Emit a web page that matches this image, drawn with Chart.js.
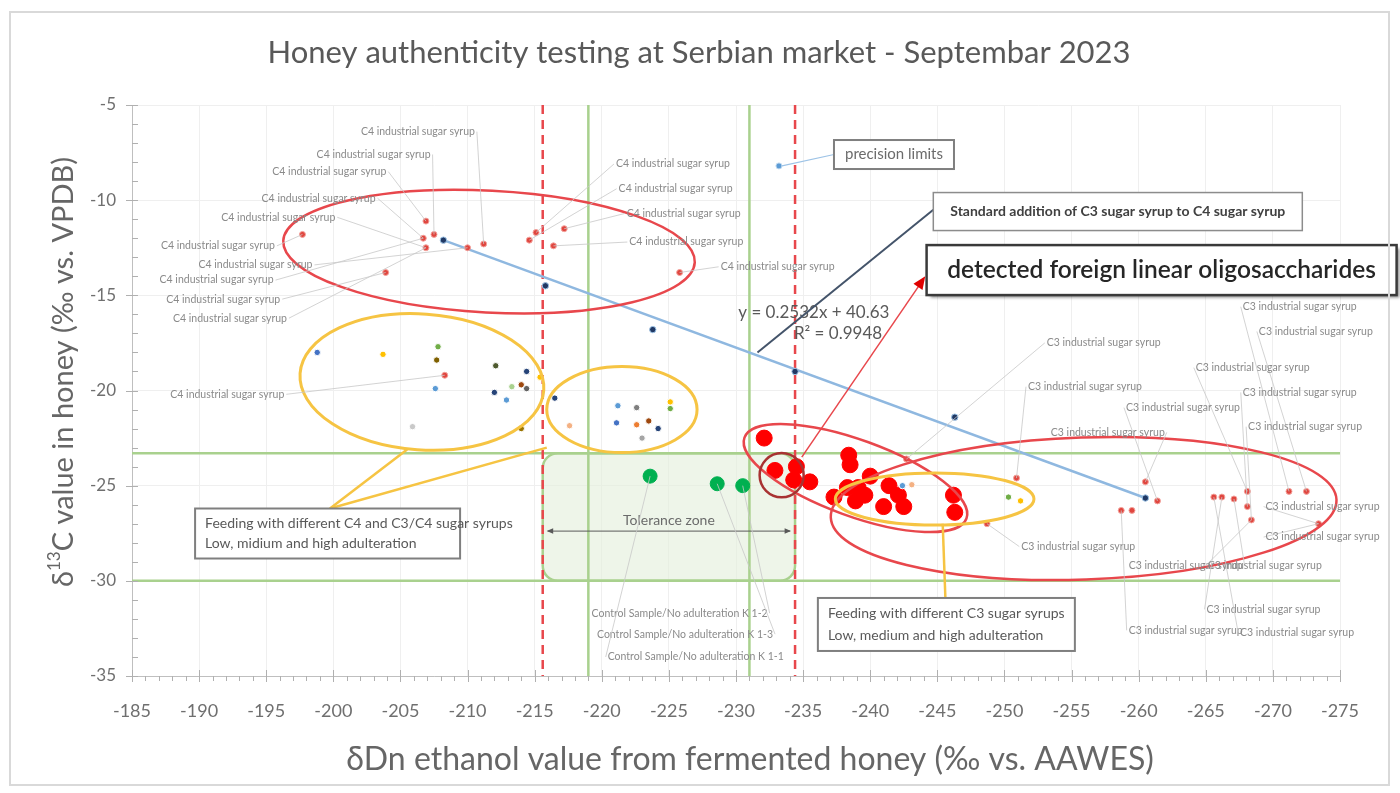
<!DOCTYPE html>
<html>
<head>
<meta charset="utf-8">
<title>Honey authenticity testing</title>
<script src="https://cdn.jsdelivr.net/npm/chart.js@4.4.0/dist/chart.umd.min.js"></script>
<style>
  html, body { margin: 0; padding: 0; background: #fff; }
  #wrap { width: 1400px; height: 793px; }
</style>
</head>
<body>
<div id="wrap"><canvas id="honeyChart" width="1400" height="793"></canvas></div>
<script>
// Axis ranges
const xMin = -275, xMax = -185, xStep = 5;
const yMin = -35, yMax = -5, yStep = 5;

// Reference limits
const precisionLimitsX = [-215.6, -234.4];
const naturalRangeX = [-219.0, -231.0];
const naturalRangeY = [-23.3, -30.0];

// C4 industrial sugar syrup samples
const c4X = [-197.7, -206.9, -206.7, -207.5, -206.9, -210.0, -211.2, -203.9, -214.6, -215.1, -217.2, -216.4, -225.8, -208.3];
const c4Y = [-11.8, -11.1, -12.0, -11.8, -12.5, -12.5, -12.3, -13.8, -12.1, -11.7, -11.5, -12.4, -13.8, -19.2];

// C3 industrial sugar syrup samples
const c3X = [-242.7, -250.9, -248.7, -260.5, -261.4, -258.7, -259.5, -265.6, -266.2, -267.1, -268.1, -268.1, -268.4, -271.2, -272.5, -273.4];
const c3Y = [-23.6, -24.6, -27.0, -24.8, -25.8, -26.3, -26.3, -25.6, -25.6, -25.7, -25.3, -26.1, -26.8, -25.3, -25.3, -27.0];

// Feeding samples (different syrups)
const feedX = [-198.8, -203.7, -207.8, -207.7, -207.6, -212.1, -214.4, -213.3, -214.0, -214.4, -212.0, -212.9, -205.9, -214.0, -216.5, -217.6, -215.4,
               -221.2, -222.6, -225.1, -225.1, -221.1, -222.6, -223.5, -224.2, -223.0,
               -250.3, -251.2, -242.4, -243.1];
const feedY = [-18.0, -18.1, -17.7, -18.4, -19.9, -18.7, -19.0, -19.8, -19.7, -19.9, -20.1, -20.5, -21.9, -22.0, -20.4, -21.85, -19.3,
               -20.8, -20.9, -20.6, -20.95, -21.7, -21.8, -21.6, -22.0, -22.5,
               -25.6, -25.8, -25.0, -24.95];
const feedColors = ['#4472c4', '#ffc000', '#70ad47', '#7f6000', '#5b9bd5', '#4e5a2e', '#264478', '#a9d18e', '#9e480e', '#636363', '#264478', '#5b9bd5', '#c9c9c9', '#997300', '#264478', '#f4b183', '#ffc000',
                    '#5b9bd5', '#7f7f7f', '#ffc000', '#70ad47', '#4472c4', '#ed7d31', '#9e480e', '#264478', '#a5a5a5',
                    '#70ad47', '#ffc000', '#5b9bd5', '#f4b183'];

// Standard addition of C3 syrup to C4 syrup
const stdX = [-208.2, -215.8, -223.8, -234.4, -246.3, -260.5];
const stdY = [-12.1, -14.5, -16.8, -19.0, -21.4, -25.65];

// Control samples, no adulteration
const ctrlX = [-223.6, -228.6, -230.5];
const ctrlY = [-24.5, -24.9, -25.0];
const ctrlNames = ['Control Sample/No adulteration K 1-2', 'Control Sample/No adulteration K 1-3', 'Control Sample/No adulteration K 1-1'];

// Detected foreign linear oligosaccharides
const foreignX = [-232.1, -232.9, -234.5, -234.3, -235.5, -238.4, -238.5, -240.0, -237.3, -238.3, -239.1, -239.6, -238.9, -241.4, -241.0, -242.1, -242.5, -246.2, -246.3];
const foreignY = [-22.5, -24.2, -24.0, -24.7, -24.8, -23.4, -23.9, -24.5, -25.6, -25.1, -25.1, -25.5, -25.8, -25.0, -26.1, -25.5, -26.1, -25.5, -26.4];

// Precision limits marker
const precisionX = [-233.2];
const precisionY = [-8.2];

// Data labels: position (data units) and the point they point at
const c4LabelX = [-206.3, -203.0, -199.7, -198.9, -195.9, -191.4, -194.2, -191.3, -191.8, -192.3, -192.1, -225.3, -225.5, -226.1, -226.3, -233.1];
const c4LabelY = [-6.4, -7.6, -8.5, -9.9, -10.9, -12.4, -13.4, -14.2, -15.2, -16.2, -20.2, -8.1, -9.4, -10.7, -12.2, -13.5];
const c4LabelTarget = [6, 3, 1, 2, 4, 0, 5, 2, 7, 4, 13, 9, 8, 10, 11, 12];

const c3LabelX = [-272.0, -273.2, -257.4, -268.5, -256.0, -272.0, -263.3, -272.4, -257.7, -255.5, -273.7, -273.7, -263.5, -269.4, -269.3, -263.5, -271.8];
const c3LabelY = [-15.6, -16.9, -17.5, -18.8, -19.8, -20.1, -20.9, -21.9, -22.2, -28.2, -26.1, -27.7, -29.2, -29.2, -31.5, -32.6, -32.7];
const c3LabelTarget = [13, 14, 0, 10, 1, 11, 4, 12, 3, 2, 15, 15, 9, 12, 8, 5, 7];

const ctrlLabelX = [-225.8, -226.2, -227.0];
const ctrlLabelY = [-31.7, -32.8, -34.0];

function pts(xs, ys) {
    return xs.map((x, i) => ({ x: x, y: ys[i] }));
}

// Hand-drawn shapes on top of the chart (centre in data units, radii in data units)
const ellipses = [
    { x: -211.6, y: -12.7, rx: 15.35, ry: 3.2, rot: 3, color: '#e8474c', width: 2.5 },
    { x: -206.6, y: -19.55, rx: 9.1, ry: 3.57, rot: 4, color: '#f6c443', width: 3 },
    { x: -221.5, y: -21.0, rx: 5.6, ry: 2.26, rot: 0, color: '#f6c443', width: 3 },
    { x: -238.9, y: -24.6, rx: 8.8, ry: 2.0, rot: 20, color: '#e8474c', width: 2.5 },
    { x: -233.4, y: -24.45, rx: 1.64, ry: 1.16, rot: 0, color: '#a83232', width: 2.5 },
    { x: -255.9, y: -26.2, rx: 18.85, ry: 3.73, rot: -2, color: '#e8474c', width: 2.5 },
    { x: -244.8, y: -25.7, rx: 7.4, ry: 1.37, rot: 0, color: '#f6c443', width: 3 }
];

const ctx = document.getElementById('honeyChart').getContext('2d');

function toPx(chart, x, y) {
    return [chart.scales.x.getPixelForValue(x), chart.scales.y.getPixelForValue(y)];
}

function line(c, x1, y1, x2, y2, color, width) {
    c.beginPath();
    c.moveTo(x1, y1);
    c.lineTo(x2, y2);
    c.strokeStyle = color;
    c.lineWidth = width;
    c.stroke();
}

function arrowHead(c, x1, y1, x2, y2, size, color) {
    const a = Math.atan2(y2 - y1, x2 - x1);
    c.beginPath();
    c.moveTo(x2, y2);
    c.lineTo(x2 - size * Math.cos(a - 0.4), y2 - size * Math.sin(a - 0.4));
    c.lineTo(x2 - size * Math.cos(a + 0.4), y2 - size * Math.sin(a + 0.4));
    c.closePath();
    c.fillStyle = color;
    c.fill();
}

// Small grey data label with a leader line to its point
function dataLabel(chart, text, lx, ly, tx, ty) {
    const c = chart.ctx;
    const [x, y] = toPx(chart, lx, ly);
    const [px, py] = toPx(chart, tx, ty);
    c.font = '10.5px Lato';
    const w = c.measureText(text).width;
    const sx = px > x ? x + w / 2 + 2 : x - w / 2 - 2;
    line(c, sx, y, px, py, '#c8c8c8', 0.8);
    c.fillStyle = '#8a8a8a';
    c.textAlign = 'center';
    c.textBaseline = 'middle';
    c.fillText(text, x, y);
}

function textBox(chart, bx, by, w, h, lines, font, color, border, borderWidth, align) {
    const c = chart.ctx;
    const [x, y] = toPx(chart, bx, by);
    c.save();
    c.fillStyle = '#fff';
    c.fillRect(x, y, w, h);
    c.strokeStyle = border;
    c.lineWidth = borderWidth;
    c.strokeRect(x, y, w, h);
    c.restore();
    c.font = font;
    c.fillStyle = color;
    c.textBaseline = 'middle';
    c.textAlign = align;
    const step = h / (lines.length + 0.4);
    lines.forEach((t, i) => {
        const tx = align === 'center' ? x + w / 2 : x + 10;
        c.fillText(t, tx, y + step * (i + 0.7));
    });
}

const annotationPlugin = {
    id: 'annotations',
    beforeDatasetsDraw(chart) {
        const c = chart.ctx;
        // Tolerance zone
        const [x1, y1] = toPx(chart, precisionLimitsX[0], naturalRangeY[0]);
        const [x2, y2] = toPx(chart, precisionLimitsX[1], naturalRangeY[1]);
        c.save();
        c.beginPath();
        c.roundRect(x1, y1, x2 - x1, y2 - y1, 15);
        c.fillStyle = 'rgba(226, 239, 218, 0.6)';
        c.fill();
        c.strokeStyle = '#a9d18e';
        c.lineWidth = 2.5;
        c.stroke();
        c.restore();
    },
    afterDatasetsDraw(chart) {
        const c = chart.ctx;
        c.save();

        // Tolerance zone text and arrow
        const [tx1, ty1] = toPx(chart, precisionLimitsX[0], naturalRangeY[0]);
        const [tx2, ty2] = toPx(chart, precisionLimitsX[1], naturalRangeY[1]);
        const ay = ty1 + (ty2 - ty1) * 0.61;
        line(c, tx1 + 5, ay, tx2 - 5, ay, '#595959', 1);
        arrowHead(c, tx2, ay, tx1 + 4, ay, 7, '#595959');
        arrowHead(c, tx1, ay, tx2 - 4, ay, 7, '#595959');
        c.font = '14px Lato';
        c.fillStyle = '#6b6b6b';
        c.textAlign = 'center';
        c.textBaseline = 'middle';
        c.fillText('Tolerance zone', (tx1 + tx2) / 2, ay - 11);

        // Ellipses
        ellipses.forEach(e => {
            const [cx, cy] = toPx(chart, e.x, e.y);
            const rx = Math.abs(chart.scales.x.getPixelForValue(e.x + e.rx) - cx);
            const ry = Math.abs(chart.scales.y.getPixelForValue(e.y + e.ry) - cy);
            c.beginPath();
            c.ellipse(cx, cy, rx, ry, e.rot * Math.PI / 180, 0, 2 * Math.PI);
            c.strokeStyle = e.color;
            c.lineWidth = e.width;
            c.stroke();
        });

        // Data labels
        c4LabelX.forEach((x, i) => {
            const t = c4LabelTarget[i];
            dataLabel(chart, 'C4 industrial sugar syrup', x, c4LabelY[i], c4X[t], c4Y[t]);
        });
        c3LabelX.forEach((x, i) => {
            const t = c3LabelTarget[i];
            dataLabel(chart, 'C3 industrial sugar syrup', x, c3LabelY[i], c3X[t], c3Y[t]);
        });
        ctrlLabelX.forEach((x, i) => {
            dataLabel(chart, ctrlNames[i], x, ctrlLabelY[i], ctrlX[2 - i], ctrlY[2 - i]);
        });

        // Trendline equation
        c.font = '17px Lato';
        c.fillStyle = '#595959';
        c.textAlign = 'center';
        c.textBaseline = 'middle';
        let [ex, ey] = toPx(chart, -235.8, -15.9);
        c.fillText('y = 0.2532x + 40.63', ex, ey);
        [ex, ey] = toPx(chart, -237.6, -17.0);
        c.fillText('R\u00b2 = 0.9948', ex, ey);

        // Precision limits callout
        let [p1x, p1y] = toPx(chart, precisionX[0], precisionY[0]);
        let [p2x, p2y] = toPx(chart, -237.3, -7.6);
        line(c, p1x + 3, p1y, p2x, p2y, '#9dc3e6', 1.2);
        textBox(chart, -237.3, -6.84, 120, 29, ['precision limits'], '15px Lato', '#6b6b6b', '#7f7f7f', 2, 'center');

        // Standard addition callout
        [p1x, p1y] = toPx(chart, -231.6, -18.0);
        [p2x, p2y] = toPx(chart, -244.7, -10.5);
        line(c, p1x, p1y, p2x, p2y, '#44546a', 2);
        textBox(chart, -244.7, -9.6, 369, 38, ['Standard addition of C3 sugar syrup to C4 sugar syrup'], 'bold 14px Lato', '#404040', '#8c8c8c', 1.5, 'center');

        // Detected oligosaccharides callout with arrow
        [p1x, p1y] = toPx(chart, -234.9, -23.5);
        [p2x, p2y] = toPx(chart, -244.1, -14.0);
        line(c, p1x, p1y, p2x - 4, p2y + 6, '#e8474c', 1.5);
        arrowHead(c, p1x, p1y, p2x, p2y, 14, '#e00000');
        c.save();
        c.shadowColor = 'rgba(0,0,0,0.45)';
        c.shadowOffsetX = 3;
        c.shadowOffsetY = 3;
        c.shadowBlur = 3;
        const [dx, dy] = toPx(chart, -244.2, -12.36);
        c.fillStyle = '#fff';
        c.fillRect(dx, dy, 470, 50);
        c.restore();
        textBox(chart, -244.2, -12.36, 470, 50, ['detected foreign linear oligosaccharides'], '600 24.5px Lato', '#262626', '#3a3a3a', 2.5, 'center');

        // Feeding callouts (yellow)
        const [f1x, f1y] = toPx(chart, -199.75, -26.2);
        [p1x, p1y] = toPx(chart, -205.5, -23.1);
        line(c, p1x, p1y, f1x, f1y, '#f6c443', 2.5);
        [p1x, p1y] = toPx(chart, -215.9, -23.0);
        line(c, p1x, p1y, f1x, f1y, '#f6c443', 2.5);
        textBox(chart, -189.7, -26.2, 265, 50, ['Feeding with different C4 and C3/C4 sugar syrups', 'Low, midium and high adulteration'], '14px Lato', '#595959', '#7f7f7f', 2, 'left');

        [p1x, p1y] = toPx(chart, -245.4, -27.0);
        [p2x, p2y] = toPx(chart, -245.6, -30.9);
        line(c, p1x, p1y, p2x, p2y, '#f6c443', 2.5);
        textBox(chart, -236.1, -30.9, 257, 53, ['Feeding with different C3 sugar syrups', 'Low, medium and high adulteration'], '14px Lato', '#595959', '#7f7f7f', 2, 'left');

        c.restore();
    },
    afterDraw(chart) {
        const c = chart.ctx;
        const xs = chart.scales.x, ys = chart.scales.y;
        const area = chart.chartArea;
        c.save();

        // Minor and major tick marks
        c.beginPath();
        for (let v = xMin; v <= xMax; v++) {
            const p = Math.round(xs.getPixelForValue(v)) + 0.5;
            const major = v % xStep === 0;
            c.moveTo(p, area.bottom - (major ? 6 : 0));
            c.lineTo(p, area.bottom + (major ? 6 : 5));
        }
        for (let v = yMin; v <= yMax; v++) {
            const p = Math.round(ys.getPixelForValue(v)) + 0.5;
            const major = v % yStep === 0;
            c.moveTo(area.left - (major ? 6 : 0), p);
            c.lineTo(area.left + 6, p);
        }
        c.strokeStyle = '#b0b0b0';
        c.lineWidth = 1;
        c.stroke();

        // Title
        c.fillStyle = '#595959';
        c.textAlign = 'center';
        c.textBaseline = 'middle';
        c.font = '31px Lato';
        c.fillText('Honey authenticity testing at Serbian market - Septembar 2023', 699, 53);

        // X axis title
        c.fillStyle = '#666666';
        c.font = '32px Lato';
        c.fillText('\u03b4Dn ethanol value from fermented honey (\u2030 vs. AAWES)', 750, 760);

        // Y axis title with superscript
        c.translate(64, 372);
        c.rotate(-Math.PI / 2);
        const big = '29px Lato', small = '17px Lato';
        const parts = [['\u03b4', big, 0], ['13', small, -9], ['C value in honey (\u2030 vs. VPDB)', big, 0]];
        let total = 0;
        parts.forEach(p => { c.font = p[1]; total += c.measureText(p[0]).width; });
        let cx = -total / 2;
        c.textAlign = 'left';
        parts.forEach(p => {
            c.font = p[1];
            c.fillText(p[0], cx, p[2]);
            cx += c.measureText(p[0]).width;
        });
        c.restore();

        // Outer frame
        c.save();
        c.strokeStyle = '#d9d9d9';
        c.lineWidth = 2;
        c.strokeRect(10, 12, 1379, 773);
        c.restore();
    }
};

function refLine(points, color, dash) {
    return {
        data: points,
        showLine: true,
        borderColor: color,
        borderDash: dash,
        borderWidth: 2.5,
        pointRadius: 0,
        order: 10
    };
}

const datasets = [];
precisionLimitsX.forEach(v => datasets.push(refLine([{ x: v, y: yMax }, { x: v, y: yMin }], '#e8474c', [9, 6])));
naturalRangeX.forEach(v => datasets.push(refLine([{ x: v, y: yMax }, { x: v, y: yMin }], '#a9d18e', [])));
naturalRangeY.forEach(v => datasets.push(refLine([{ x: xMax, y: v }, { x: xMin, y: v }], '#a9d18e', [])));

// Trendline through the standard addition points
datasets.push({
    data: [{ x: stdX[0], y: stdY[0] }, { x: stdX[stdX.length - 1], y: stdY[stdY.length - 1] }],
    showLine: true,
    borderColor: '#8fb8e0',
    borderWidth: 2.5,
    pointRadius: 0,
    order: 9
});

datasets.push({ label: 'Control samples', data: pts(ctrlX, ctrlY), backgroundColor: '#00b050', borderColor: '#00b050', pointRadius: 7, order: 3 });
datasets.push({ label: 'Foreign oligosaccharides', data: pts(foreignX, foreignY), backgroundColor: '#ff0000', borderColor: '#ff0000', pointRadius: 8, order: 2 });
datasets.push({ label: 'C4 syrup', data: pts(c4X, c4Y), backgroundColor: '#e0463f', borderColor: '#f3a29c', borderWidth: 1, pointRadius: 3, order: 1 });
datasets.push({ label: 'C3 syrup', data: pts(c3X, c3Y), backgroundColor: '#e0463f', borderColor: '#f3a29c', borderWidth: 1, pointRadius: 3, order: 1 });
datasets.push({ label: 'Feeding', data: pts(feedX, feedY), backgroundColor: feedColors, borderColor: '#ffffff', borderWidth: 1, pointRadius: 3.2, order: 1 });
datasets.push({ label: 'Standard addition', data: pts(stdX, stdY), backgroundColor: '#203864', borderColor: '#9dc3e6', borderWidth: 1, pointRadius: 3.2, order: 1 });
datasets.push({ label: 'Precision limits', data: pts(precisionX, precisionY), backgroundColor: '#5b9bd5', borderColor: '#bdd7ee', borderWidth: 1, pointRadius: 3, order: 1 });

const honeyChart = new Chart(ctx, {
    type: 'scatter',
    data: { datasets: datasets },
    options: {
        responsive: false,
        animation: false,
        devicePixelRatio: 1,
        layout: { padding: { left: 0, top: 105, right: 60, bottom: 0 } },
        plugins: { legend: { display: false }, tooltip: { enabled: false } },
        scales: {
            x: {
                type: 'linear',
                reverse: true,
                min: xMin,
                max: xMax,
                ticks: { stepSize: xStep, autoSkip: false, maxRotation: 0, padding: 24, color: '#6f6f6f', font: { family: 'Lato', size: 18 } },
                grid: { color: '#efefef', drawTicks: false },
                border: { color: '#bfbfbf' },
                afterFit: scale => { scale.height = 117; }
            },
            y: {
                min: yMin,
                max: yMax,
                ticks: { stepSize: yStep, padding: 16, color: '#6f6f6f', font: { family: 'Lato', size: 17 } },
                grid: { color: '#efefef', drawTicks: false },
                border: { color: '#bfbfbf' },
                afterFit: scale => { scale.width = 132; }
            }
        }
    },
    plugins: [annotationPlugin]
});
</script>
</body>
</html>
